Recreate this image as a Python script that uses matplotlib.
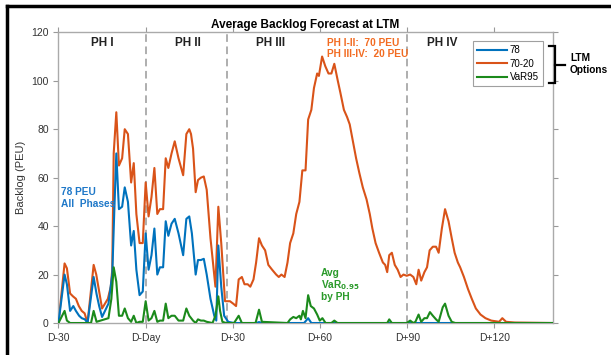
import matplotlib.pyplot as plt
import matplotlib.lines as mlines

plt.rcParams['font.family'] = ['Liberation Sans', 'DejaVu Sans']

# days relative to D-Day
d_orange = [-30, -27.9, -27.1, -26, -25, -24, -23, -22, -21, -20, -17.9, -17, -16, -15, -14, -13, -12,
            -11.5, -11, -10.1, -9.2, -8.1, -7.2, -6.1, -5, -4.1, -3.2, -2.1, -1, 0, 1, 2, 3, 4, 4.9, 6,
            6.9, 7.8, 8.9, 10, 11.3, 12.9, 14, 15, 15.6, 16.3, 17.2, 18, 19, 20, 21, 22.3, 24, 25, 26,
            27.3, 29, 30.1, 31.1, 32, 33.1, 34, 35.1, 36, 37.1, 38, 39, 40, 41.1, 42.2, 43.5, 44.9, 45.8,
            46.7, 47.8, 48.8, 49.7, 50.8, 51.8, 52.9, 53.9, 55, 55.9, 57, 57.9, 59, 59.6, 60.7, 61.8,
            62.9, 63.9, 64.9, 66.1, 67, 68.2, 69.3, 70.2, 71.3, 72.4, 73.5, 74.7, 76, 77.1, 78, 79.1,
            80.3, 81.6, 82.4, 83.1, 83.8, 84.7, 85.7, 86.7, 87.7, 88.7, 89.8, 91, 92.1, 93.1, 93.9,
            94.8, 95.9, 96.8, 97.7, 98.8, 99.9, 100.8, 101.9, 103, 104.2, 105.3, 106.3, 107.4, 108.2,
            109.5, 110.9, 112.2, 113.6, 115.2, 116.9, 118.9, 121.6, 122.7, 124, 127, 140]
orange = [0, 24.6, 22.6, 12.2, 11, 10, 7, 5, 4, 0, 24, 20, 13, 6, 8, 10, 15,
          22, 70, 87, 65, 68, 80, 78, 58, 66, 45, 33, 33, 58, 44, 52, 64, 45, 47, 47,
          68, 64, 70, 75, 68, 61, 78, 80, 78, 72, 54, 59, 60, 60.5, 55, 35, 15, 48, 33,
          9, 9, 8, 7, 18, 19, 16, 16, 15, 18, 25, 35, 32, 30, 24, 22, 20, 19,
          20, 19, 25, 33, 37, 45, 50, 63, 63, 84, 88, 97, 103, 102, 110, 106,
          103, 103, 107, 100, 95, 88, 85, 82, 75, 68, 62, 56, 51, 45, 39, 33,
          29, 25, 24, 21, 28, 29, 24, 22, 19, 20, 19.5, 20, 19, 16, 22,
          17.5, 21, 23, 30, 31.5, 31.5, 29, 39, 47, 42, 35, 29, 25, 23,
          19, 14, 10, 6, 3.5, 2, 1, 0.5, 2, 0.5, 0.2, 0]

d_blue = [-30, -27.9, -27.1, -26, -24.9, -24, -22.9, -22, -20.9, -20, -17.9, -16.9, -16, -15, -14,
          -12.8, -11.5, -10.8, -10.1, -9.2, -8.1, -7.2, -6.1, -5, -4.1, -3.2, -2.1, -1, 0, 1, 2, 3,
          4, 4.9, 6, 6.9, 7.8, 8.9, 10, 11.3, 12.9, 14, 15, 15.9, 17.2, 18, 19, 20, 21, 22.3, 23.6,
          24.3, 25, 26, 27, 28.4, 30.4, 38, 39, 40, 54.5, 55.9, 57, 140]
blue = [0, 20, 16, 5, 7, 5, 3, 2, 1.5, 0, 19, 12, 7, 2.5, 5,
        8, 20, 46, 70, 47, 48, 56, 50, 32, 38, 22, 11.5, 13, 37, 22, 28, 39,
        20, 23, 23, 42, 36, 41, 43, 37, 28, 43, 44, 37, 20, 26, 26, 26.5, 20, 10, 3,
        1, 32, 15, 3, 0.5, 0, 0, 0.4, 0, 0, 2, 0, 0]

d_green = [-30, -27.9, -27.1, -26, -18.8, -17.9, -16.9, -12.8, -11.8, -11, -10.1, -9.2, -8.1, -7.2,
           -6.1, -5, -4.1, -3.2, -2.1, -1, 0, 1, 2, 3, 4, 4.9, 6, 6.9, 7.8, 8.9, 10, 11.3, 12.9,
           14, 15, 16.3, 17.2, 18, 19, 20, 21, 23, 24, 25, 25.6, 26.4, 27.7, 30.4, 32, 33.1, 37.8,
           39, 40, 48.8, 49.7, 50.8, 51.8, 52.9, 53.4, 54.1, 55, 55.9, 56.8, 57.9, 59, 59.9, 60.8,
           61.9, 63.9, 64.9, 66, 83.1, 83.8, 84.7, 89.8, 91, 92.1, 92.8, 93.9, 94.8, 95.9, 96.8,
           97.8, 98.8, 99.9, 100.8, 102.2, 103, 104.2, 105.3, 106.5, 140]
green = [0, 5, 1, 0, 0, 5, 0.5, 2, 10, 23, 17, 3, 3, 6,
         2, 0.5, 3, 0, 0.5, 0.5, 9, 1, 2, 5, 0.5, 1, 1, 8, 2, 3, 3, 1, 1,
         6, 3, 1, 0, 1.5, 1, 1, 0.5, 0, 3, 11, 5, 0.5, 0, 0, 3, 0, 0,
         5.5, 0.5, 0, 1.5, 2.5, 2, 3, 1.5, 5, 2, 11.5, 7, 6, 3.5, 1, 2,
         0, 0, 1, 0, 0, 1.5, 0, 0, 1, 0, 0.5, 3.5, 0.5, 2, 2,
         4.5, 3, 1.5, 0.5, 6.5, 8, 3, 0.5, 0, 0]

phase_bounds = [0, 28, 90]
phase_names = ['PH I', 'PH II', 'PH III', 'PH IV']
phase_centers = [-15, 14.7, 43, 102]
xticks = [-30, 0, 30, 60, 90, 120]
xticklabels = ['D-30', 'D-Day', 'D+30', 'D+60', 'D+90', 'D+120']

c_blue = '#0072BD'
c_orange = '#D95319'
c_green = '#1B8A1B'

W, H = 611, 355
fig = plt.figure(figsize=(6.11, 3.55), dpi=100)
ax = fig.add_axes([0.0957, 0.0901, 0.8087, 0.8189])

ax.plot(d_blue, blue, color=c_blue, lw=1.5, label='78', zorder=3)
ax.plot(d_orange, orange, color=c_orange, lw=1.5, label='70-20', zorder=2)
ax.plot(d_green, green, color=c_green, lw=1.5, label='VaR95', zorder=4)

for b in phase_bounds:
    ax.axvline(b, color='#999999', lw=1.1, ls=(0, (5, 3)), zorder=1)

for name, xc in zip(phase_names, phase_centers):
    ax.text(xc, 115.7, name, ha='center', va='center', fontsize=8.5, fontweight='bold', color='#222222')

ax.text(62.3, 115.7, 'PH I-II:  70 PEU', color='#F26B21', fontsize=7.3, fontweight='bold', va='center')
ax.text(62.3, 110.9, 'PH III-IV:  20 PEU', color='#F26B21', fontsize=7.3, fontweight='bold', va='center')
ax.text(-29.3, 54, '78 PEU', color='#1F78C8', fontsize=7.3, fontweight='bold', va='center')
ax.text(-29.3, 49, 'All  Phases', color='#1F78C8', fontsize=7.3, fontweight='bold', va='center')
ax.text(60.2, 20.5, 'Avg', color='#2A9A2A', fontsize=7.3, fontweight='bold', va='center')
ax.text(60.2, 15.5, r'VaR$_{\mathbf{0.95}}$', color='#2A9A2A', fontsize=7.3, fontweight='bold', va='center')
ax.text(60.2, 10.9, 'by PH', color='#2A9A2A', fontsize=7.3, fontweight='bold', va='center')

ax.set_xlim(-30, 140)
ax.set_ylim(0, 120)
ax.set_xticks(xticks)
ax.set_xticklabels(xticklabels)
ax.set_yticks(range(0, 121, 20))
ax.tick_params(direction='out', length=3.5, color='#999999', labelcolor='#333333', labelsize=7.5,
               top=True, right=True, width=0.8)
for s in ax.spines.values():
    s.set_color('#AAAAAA')
    s.set_linewidth(1.0)

ax.set_ylabel('Backlog (PEU)', fontsize=8, color='#333333', labelpad=4)
ax.set_title('Average Backlog Forecast at LTM', fontsize=8.5, fontweight='bold', pad=3)

leg = ax.legend(loc='upper right', bbox_to_anchor=(0.980, 0.970), fontsize=7, handlelength=3.1,
                frameon=True, fancybox=False, edgecolor='#888888', borderpad=0.4, labelspacing=0.38,
                handletextpad=0.25, borderaxespad=0)
leg.get_frame().set_linewidth(0.8)


def px_line(xs, ys, **kw):
    # line in screenshot pixel coordinates (origin at top-left)
    fig.add_artist(mlines.Line2D([x / W for x in xs], [1 - y / H for y in ys],
                                 transform=fig.transFigure, **kw))


# bracket and label outside the axes
px_line([549, 555, 555, 549], [46, 46, 83, 83], color='black', lw=1.6, solid_joinstyle='miter')
px_line([555, 565], [64.5, 64.5], color='black', lw=1.6)
fig.text(570 / W, 1 - 58 / H, 'LTM', fontsize=7.3, fontweight='bold', va='center', ha='left')
fig.text(570 / W, 1 - 70 / H, 'Options', fontsize=7.3, fontweight='bold', va='center', ha='left')

# frame lines of the screenshot
px_line([7, 7], [6, H], color='black', lw=2.5)
px_line([7, W], [6, 6], color='black', lw=2.5)

fig.savefig('out.png', dpi=100)
